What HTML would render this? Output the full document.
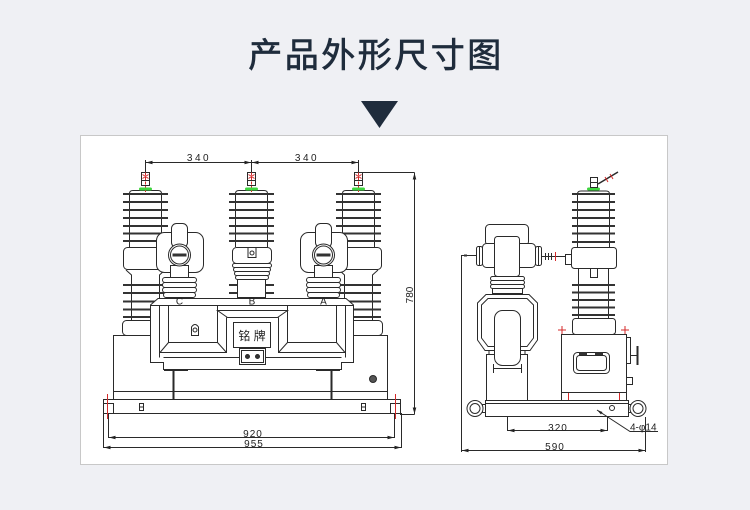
<!DOCTYPE html>
<html><head><meta charset="utf-8">
<style>
html,body{margin:0;padding:0;width:750px;height:510px;overflow:hidden;background:#eff0f4;}
svg{display:block}
.d{font-family:"Liberation Sans",sans-serif;font-size:10px;fill:#222}
</style></head><body>
<svg width="750" height="510" viewBox="0 0 750 510" xmlns="http://www.w3.org/2000/svg">
<rect width="750" height="510" fill="#eff0f4"/>
<text x="376" y="67" text-anchor="middle" font-family="Liberation Sans, Noto Sans CJK SC, sans-serif" font-size="34" letter-spacing="2.5" fill="#1f2c3c" stroke="#1f2c3c" stroke-width="0.7">产品外形尺寸图</text>
<polygon points="361,101 398,101 379.5,128" fill="#1f2c3c"/>
<rect x="80.5" y="135.5" width="587" height="329" fill="#fff" stroke="#c8c8c8"/>

<g fill="none" stroke="#2a2a2a" stroke-width="1">
<!-- ===== LEFT (FRONT) VIEW ===== -->
<rect x="113.5" y="335.5" width="274" height="64" fill="#fff"/>
<line x1="113" y1="391.5" x2="387" y2="391.5"/>

<!-- left pole c=145.5 -->
<path d="M129.5,247 V193.5 Q129.5,190.5 133,190.5 H158 Q161.5,190.5 161.5,193.5 V247" fill="#fff"/>
<g stroke-width="2" stroke="#333">
<line x1="123" y1="194" x2="168" y2="194"/><line x1="123" y1="202" x2="168" y2="202"/><line x1="123" y1="210" x2="168" y2="210"/><line x1="123" y1="218" x2="168" y2="218"/><line x1="123" y1="226" x2="168" y2="226"/><line x1="123" y1="233.5" x2="168" y2="233.5"/><line x1="123" y1="241" x2="168" y2="241"/>
</g>
<rect x="123.5" y="247.5" width="45" height="22" rx="4" fill="#fff"/>
<path d="M126,270 L131.5,275 V320 M165,270 L159.5,275 V320"/>
<g stroke-width="2" stroke="#333">
<line x1="123" y1="285" x2="168" y2="285"/><line x1="123" y1="293" x2="168" y2="293"/><line x1="123" y1="301.5" x2="168" y2="301.5"/><line x1="123" y1="309.5" x2="168" y2="309.5"/><line x1="123" y1="317" x2="168" y2="317"/>
</g>
<rect x="122.5" y="320.5" width="47" height="15" rx="4" fill="#fff"/>

<!-- right pole c=358.5 -->
<path d="M342.5,247 V193.5 Q342.5,190.5 346,190.5 H371 Q374.5,190.5 374.5,193.5 V247" fill="#fff"/>
<g stroke-width="2" stroke="#333">
<line x1="336" y1="194" x2="381" y2="194"/><line x1="336" y1="202" x2="381" y2="202"/><line x1="336" y1="210" x2="381" y2="210"/><line x1="336" y1="218" x2="381" y2="218"/><line x1="336" y1="226" x2="381" y2="226"/><line x1="336" y1="233.5" x2="381" y2="233.5"/><line x1="336" y1="241" x2="381" y2="241"/>
</g>
<rect x="336.5" y="247.5" width="45" height="22" rx="4" fill="#fff"/>
<path d="M339,270 L344.5,275 V320 M378,270 L372.5,275 V320"/>
<g stroke-width="2" stroke="#333">
<line x1="336" y1="285" x2="381" y2="285"/><line x1="336" y1="293" x2="381" y2="293"/><line x1="336" y1="301.5" x2="381" y2="301.5"/><line x1="336" y1="309.5" x2="381" y2="309.5"/><line x1="336" y1="317" x2="381" y2="317"/>
</g>
<rect x="335.5" y="320.5" width="47" height="15" rx="4" fill="#fff"/>

<!-- center pole c=251.5 -->
<path d="M235.5,247 V193.5 Q235.5,190.5 239,190.5 H264 Q267.5,190.5 267.5,193.5 V247" fill="#fff"/>
<g stroke-width="2" stroke="#333">
<line x1="229" y1="194" x2="274" y2="194"/><line x1="229" y1="202" x2="274" y2="202"/><line x1="229" y1="210" x2="274" y2="210"/><line x1="229" y1="218" x2="274" y2="218"/><line x1="229" y1="226" x2="274" y2="226"/><line x1="229" y1="233.5" x2="274" y2="233.5"/><line x1="229" y1="241" x2="274" y2="241"/>
<line x1="229" y1="285" x2="237" y2="285"/><line x1="266" y1="285" x2="274" y2="285"/><line x1="229" y1="293" x2="237" y2="293"/><line x1="266" y1="293" x2="274" y2="293"/>
</g>
<rect x="232.5" y="247.5" width="39" height="16" rx="4" fill="#fff"/>
<rect x="248" y="247.5" width="8" height="10" fill="#fff"/>
<circle cx="252" cy="253" r="2"/>
<rect x="232.5" y="263.5" width="39" height="4" rx="2" fill="#fff"/>
<rect x="233.5" y="267.5" width="37" height="4" rx="2" fill="#fff"/>
<rect x="234.5" y="271.5" width="35" height="4" rx="2" fill="#fff"/>
<rect x="235.5" y="275.5" width="33" height="4" rx="2" fill="#fff"/>
<rect x="237.5" y="279.5" width="28" height="18" fill="#fff"/>

<!-- terminals -->
<g>
<rect x="141.5" y="172.5" width="8" height="13" fill="#fff"/>
<rect x="247.5" y="172.5" width="8" height="13" fill="#fff"/>
<rect x="354.5" y="172.5" width="8" height="13" fill="#fff"/>
<line x1="141.5" y1="180.5" x2="149.5" y2="180.5"/><line x1="247.5" y1="180.5" x2="255.5" y2="180.5"/><line x1="354.5" y1="180.5" x2="362.5" y2="180.5"/>
</g>
<g stroke="#d42a2a">
<line x1="145.5" y1="168" x2="145.5" y2="192" stroke-dasharray="3,1.5"/>
<line x1="251.5" y1="168" x2="251.5" y2="192" stroke-dasharray="3,1.5"/>
<line x1="358.5" y1="168" x2="358.5" y2="192" stroke-dasharray="3,1.5"/>
<path d="M142.5,174.5 L148.5,178.5 M148.5,174.5 L142.5,178.5 M248.5,174.5 L254.5,178.5 M254.5,174.5 L248.5,178.5 M355.5,174.5 L361.5,178.5 M361.5,174.5 L355.5,178.5"/>
</g>
<g fill="#3fd43f" stroke="none">
<rect x="139" y="187.5" width="13" height="3" rx="1.5"/><rect x="245" y="187.5" width="13" height="3" rx="1.5"/><rect x="352" y="187.5" width="13" height="3" rx="1.5"/>
</g>

<!-- CT unit C c=179.5 -->
<rect x="156.5" y="232.5" width="47" height="40" rx="8" fill="#fff"/>
<rect x="171.5" y="223.5" width="16" height="24" rx="5" fill="#fff"/>
<rect x="170.5" y="265.5" width="18" height="12" fill="#fff"/>
<circle cx="179.5" cy="255" r="11" fill="#fff"/>
<circle cx="179.5" cy="255" r="9"/>
<rect x="172.5" y="253.5" width="14" height="3" fill="#333" stroke="none"/>
<rect x="162.5" y="277.5" width="34" height="5" rx="2.5" fill="#fff"/>
<rect x="162.5" y="282.5" width="34" height="5" rx="2.5" fill="#fff"/>
<rect x="162.5" y="287.5" width="34" height="5" rx="2.5" fill="#fff"/>
<rect x="163.5" y="292.5" width="32" height="5" rx="2.5" fill="#fff"/>

<!-- CT unit A c=323.5 -->
<rect x="300.5" y="232.5" width="47" height="40" rx="8" fill="#fff"/>
<rect x="315.5" y="223.5" width="16" height="24" rx="5" fill="#fff"/>
<rect x="314.5" y="265.5" width="18" height="12" fill="#fff"/>
<circle cx="323.5" cy="255" r="11" fill="#fff"/>
<circle cx="323.5" cy="255" r="9"/>
<rect x="316.5" y="253.5" width="14" height="3" fill="#333" stroke="none"/>
<rect x="306.5" y="277.5" width="34" height="5" rx="2.5" fill="#fff"/>
<rect x="306.5" y="282.5" width="34" height="5" rx="2.5" fill="#fff"/>
<rect x="306.5" y="287.5" width="34" height="5" rx="2.5" fill="#fff"/>
<rect x="307.5" y="292.5" width="32" height="5" rx="2.5" fill="#fff"/>

<!-- posts & feet -->
<line x1="173.5" y1="369" x2="173.5" y2="400" stroke-width="2"/>
<line x1="331.5" y1="369" x2="331.5" y2="400" stroke-width="2"/>
<line x1="164" y1="370" x2="188" y2="370" stroke-width="2"/>
<line x1="316" y1="370" x2="340" y2="370" stroke-width="2"/>

<!-- cabinet -->
<path d="M158,298.5 H346 L353.5,305 V362.5 H341.5 V369.5 H163.5 V362.5 H150.5 V305 Z" fill="#fff"/>
<line x1="151" y1="305.5" x2="353" y2="305.5"/>
<line x1="159.5" y1="306" x2="159.5" y2="357.5"/>
<line x1="345.5" y1="306" x2="345.5" y2="357.5"/>
<line x1="163.5" y1="357.5" x2="341.5" y2="357.5"/>
<path d="M168.5,306 V342.5 H217.5 V306 M287.5,306 V342.5 H336.5 V306"/>
<path d="M168.5,342.5 L160,352.5 M217.5,342.5 L226.5,352.5 M287.5,342.5 L278.5,352.5 M336.5,342.5 L345,352.5"/>
<path d="M159.5,352.5 H226.5 V317.5 M278.5,317.5 V352.5 H345.5"/>
<path d="M217.5,310.5 H287.5 L277.5,317.5 H227.5 Z" fill="#fff"/>
<rect x="233.5" y="322.5" width="37" height="25" fill="#fff"/>
<rect x="239.5" y="348.5" width="26" height="16" fill="#fff"/>
<rect x="241.5" y="350.5" width="22" height="12"/>
<circle cx="247.5" cy="356.5" r="2" fill="#333"/>
<circle cx="257.5" cy="356.5" r="2" fill="#333"/>
<path d="M191.5,335.5 V327 Q195,322 198.5,327 V335.5 Z" fill="#fff"/>
<circle cx="195" cy="330" r="2"/>
<circle cx="373" cy="379" r="3.5" fill="#555"/>

<!-- base plate -->
<rect x="103.5" y="399.5" width="297" height="14" fill="#fff"/>
<rect x="103.5" y="403.5" width="10" height="10"/>
<rect x="390.5" y="403.5" width="10" height="10"/>
<rect x="139.5" y="403.5" width="4" height="7"/><line x1="139.5" y1="407" x2="143.5" y2="407"/>
<rect x="361.5" y="403.5" width="4" height="7"/><line x1="361.5" y1="407" x2="365.5" y2="407"/>
<line x1="107.5" y1="394" x2="107.5" y2="419" stroke="#d42a2a"/>
<line x1="395.5" y1="394" x2="395.5" y2="419" stroke="#d42a2a"/>

<!-- dimensions front -->
<line x1="145.5" y1="162.5" x2="358.5" y2="162.5"/>
<line x1="145.5" y1="160" x2="145.5" y2="172"/><line x1="251.5" y1="160" x2="251.5" y2="172"/><line x1="358.5" y1="160" x2="358.5" y2="172"/>
<line x1="360" y1="172.5" x2="414.5" y2="172.5"/>
<line x1="414.5" y1="172.5" x2="414.5" y2="414.5"/>
<line x1="400" y1="414.5" x2="414.5" y2="414.5"/>
<line x1="108.5" y1="437.5" x2="394.5" y2="437.5"/>
<line x1="108.5" y1="414" x2="108.5" y2="438"/><line x1="394.5" y1="414" x2="394.5" y2="438"/>
<line x1="103.5" y1="447.5" x2="401.5" y2="447.5"/>
<line x1="103.5" y1="413" x2="103.5" y2="448"/><line x1="401.5" y1="413" x2="401.5" y2="448"/>

<!-- ===== RIGHT (SIDE) VIEW ===== -->
<path d="M577.5,247 V194 Q577.5,191 581,191 H606 Q609.5,191 609.5,194 V247" fill="#fff"/>
<g stroke-width="2" stroke="#333">
<line x1="572" y1="194" x2="615" y2="194"/><line x1="572" y1="202" x2="615" y2="202"/><line x1="572" y1="210" x2="615" y2="210"/><line x1="572" y1="218" x2="615" y2="218"/><line x1="572" y1="226" x2="615" y2="226"/><line x1="572" y1="233.5" x2="615" y2="233.5"/><line x1="572" y1="242" x2="615" y2="242"/>
</g>
<rect x="587" y="187.5" width="13" height="3" rx="1.5" fill="#3fd43f" stroke="none"/>
<rect x="590.5" y="177.5" width="7" height="10" fill="#fff"/>
<line x1="591" y1="182.5" x2="597" y2="182.5"/>
<line x1="598" y1="184" x2="618" y2="172" stroke-width="1.5"/>
<path d="M605,177 L608,182 M610,174 L613,179" stroke="#d42a2a"/>
<rect x="571.5" y="247.5" width="45" height="21" rx="3" fill="#fff"/>
<rect x="565.5" y="254.5" width="6" height="10" fill="#fff"/>
<rect x="590.5" y="268.5" width="7" height="9" fill="#fff"/>
<path d="M578.5,268 V318 M608.5,268 V318"/>
<g stroke-width="2" stroke="#333">
<line x1="572" y1="285" x2="615" y2="285"/><line x1="572" y1="292.5" x2="615" y2="292.5"/><line x1="572" y1="300" x2="615" y2="300"/><line x1="572" y1="307.5" x2="615" y2="307.5"/><line x1="572" y1="315" x2="615" y2="315"/>
</g>
<rect x="572.5" y="318.5" width="43" height="16" rx="3" fill="#fff"/>
<rect x="561.5" y="334.5" width="65" height="58" fill="#fff"/>
<rect x="561.5" y="392.5" width="65" height="8" fill="#fff"/>
<rect x="573.5" y="352.5" width="36" height="21" rx="4" fill="#fff"/>
<rect x="576.5" y="355.5" width="30" height="15" rx="3"/>
<rect x="579" y="352" width="8" height="3" fill="#333" stroke="none"/>
<rect x="595" y="352" width="8" height="3" fill="#333" stroke="none"/>
<rect x="626.5" y="337.5" width="4" height="26" fill="#fff"/>
<line x1="630.5" y1="355.5" x2="637" y2="355.5"/>
<line x1="637.5" y1="346" x2="637.5" y2="365" stroke-width="2"/>
<rect x="626.5" y="377.5" width="6" height="7"/>
<g stroke="#d42a2a">
<path d="M562,326 V334 M558,330 H566 M625,326 V334 M621,330 H629 M568.5,393 V407 M619.5,393 V407"/>
</g>

<!-- left part of side view -->
<rect x="485.5" y="224.5" width="43" height="21" rx="4" fill="#fff"/>
<rect x="482.5" y="243.5" width="53" height="24" rx="4" fill="#fff"/>
<rect x="476.5" y="246.5" width="6" height="19" rx="2" fill="#fff"/>
<rect x="535.5" y="246.5" width="6" height="19" rx="2" fill="#fff"/>
<path d="M479.5,247 V265 M538.5,247 V265"/>
<rect x="494.5" y="236.5" width="25" height="40" rx="3" fill="#fff"/>
<rect x="490.5" y="276.5" width="34" height="4" rx="2" fill="#fff"/>
<rect x="490.5" y="280.5" width="34" height="4" rx="2" fill="#fff"/>
<rect x="490.5" y="284.5" width="34" height="4" rx="2" fill="#fff"/>
<rect x="492.5" y="288.5" width="30" height="5" fill="#fff"/>
<polygon points="486,294.5 529,294.5 537.5,303 537.5,340 530,350.5 485,350.5 477.5,340 477.5,303" fill="#fff"/>
<polygon points="488,298.5 527,298.5 533.5,305 533.5,338 527,346.5 488,346.5 481.5,338 481.5,305"/>
<rect x="486.5" y="354.5" width="41" height="46" fill="#fff"/>
<line x1="489" y1="350.5" x2="489" y2="355"/><line x1="525" y1="350.5" x2="525" y2="355"/>
<rect x="494.5" y="310.5" width="26" height="55" rx="8" fill="#fff"/>
<path d="M493.5,364 V373 M521.5,364 V373 M493.5,368.5 H521.5"/>
<line x1="541" y1="256.5" x2="565" y2="256.5"/>
<path d="M545.5,253 V260 M548.5,253 V260 M551.5,253 V260"/>
<path d="M555.5,252 V261" stroke="#d42a2a"/>
<line x1="461" y1="255.5" x2="476.5" y2="255.5"/>
<rect x="464" y="254.5" width="3" height="2" fill="#333" stroke="none"/>
<line x1="461.5" y1="255" x2="461.5" y2="452"/>

<rect x="485.5" y="400.5" width="143" height="16" fill="#fff"/>
<line x1="486" y1="403.5" x2="628" y2="403.5"/>
<rect x="482.5" y="404.5" width="3" height="8" fill="#fff"/>
<rect x="628.5" y="404.5" width="3" height="8" fill="#fff"/>
<circle cx="475" cy="408.5" r="8" fill="#fff"/><circle cx="475" cy="408.5" r="5"/>
<circle cx="638" cy="408.5" r="8" fill="#fff"/><circle cx="638" cy="408.5" r="5"/>
<circle cx="612" cy="408" r="2.5"/>
<path d="M597,410 L630,431.5 H658"/>

<!-- dimensions side -->
<line x1="507.5" y1="416" x2="507.5" y2="431"/><line x1="607.5" y1="416" x2="607.5" y2="431"/>
<line x1="507.5" y1="430.5" x2="607.5" y2="430.5"/>
<line x1="645.5" y1="417" x2="645.5" y2="452"/>
<line x1="461.5" y1="450.5" x2="645.5" y2="450.5"/>
</g>

<!-- arrowheads -->
<g fill="#222">
<polygon points="146,162.5 152.5,160.7 152.5,164.3"/>
<polygon points="251,162.5 244.5,160.7 244.5,164.3"/>
<polygon points="252,162.5 258.5,160.7 258.5,164.3"/>
<polygon points="358,162.5 351.5,160.7 351.5,164.3"/>
<polygon points="414.5,173 412.7,179.5 416.3,179.5"/>
<polygon points="414.5,414 412.7,407.5 416.3,407.5"/>
<polygon points="109,437.5 115.5,435.7 115.5,439.3"/>
<polygon points="394,437.5 387.5,435.7 387.5,439.3"/>
<polygon points="104,447.5 110.5,445.7 110.5,449.3"/>
<polygon points="401,447.5 394.5,445.7 394.5,449.3"/>
<polygon points="508,430.5 514.5,428.7 514.5,432.3"/>
<polygon points="607,430.5 600.5,428.7 600.5,432.3"/>
<polygon points="462,450.5 468.5,448.7 468.5,452.3"/>
<polygon points="645,450.5 638.5,448.7 638.5,452.3"/>
<polygon points="597,410 602.5,412 601,414.5"/>
</g>

<!-- labels -->
<text class="d" x="199" y="161" text-anchor="middle" letter-spacing="2.5">340</text>
<text class="d" x="307" y="161" text-anchor="middle" letter-spacing="2.5">340</text>
<text class="d" transform="translate(413,295) rotate(-90)" text-anchor="middle" font-size="9">780</text>
<text class="d" x="253" y="437" text-anchor="middle" letter-spacing="1">920</text>
<text class="d" x="254" y="447" text-anchor="middle" letter-spacing="1">955</text>
<text class="d" x="558" y="431" text-anchor="middle" letter-spacing="1">320</text>
<text class="d" x="555" y="450" text-anchor="middle" letter-spacing="1">590</text>
<text class="d" x="630" y="430.5">4-φ14</text>
<text class="d" x="179.5" y="304.5" text-anchor="middle" font-size="8">C</text>
<text class="d" x="252" y="304.5" text-anchor="middle" font-size="8">B</text>
<text class="d" x="323.5" y="304.5" text-anchor="middle" font-size="8">A</text>
<text x="252" y="340" text-anchor="middle" font-family="Liberation Sans, Noto Sans CJK SC, sans-serif" font-size="12" fill="#222">铭 牌</text>
</svg>
</body></html>
